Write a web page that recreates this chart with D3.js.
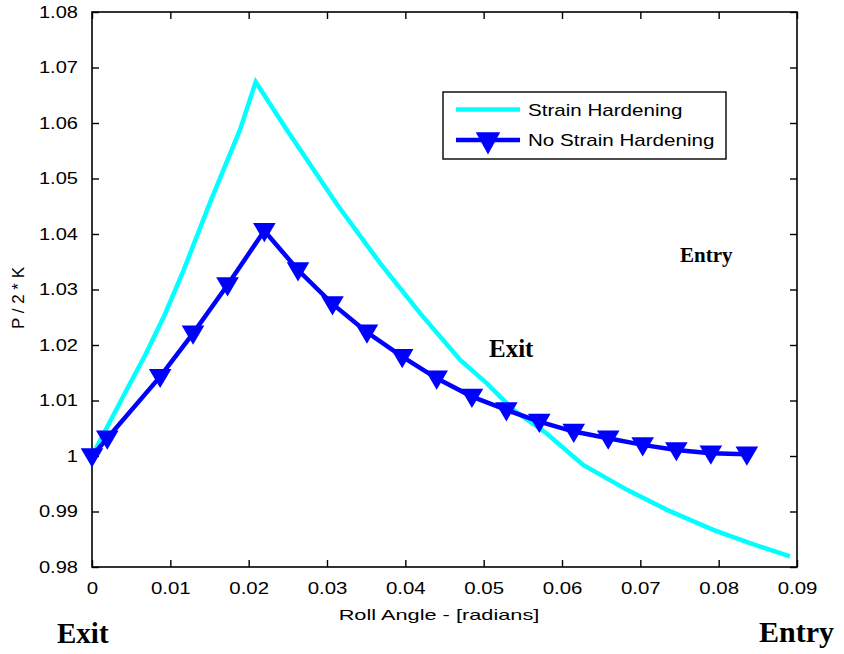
<!DOCTYPE html>
<html>
<head>
<meta charset="utf-8">
<script src="https://cdn.jsdelivr.net/npm/d3@7"></script>
<style>
  html, body { margin: 0; padding: 0; background: #fff; }
  svg { display: block; }
  text { font-family: Arial, "Liberation Sans", sans-serif; fill: #000; }
  .serif { font-family: "Times New Roman", "Liberation Serif", serif; font-weight: bold; }
</style>
</head>
<body>
<svg id="chart" width="844" height="654"></svg>
<script>
// Roll pressure distribution along the arc of contact
const hardeningAngle = [0, 0.0017, 0.0046, 0.0068, 0.0093, 0.0117, 0.0151, 0.0189, 0.0209,
  0.0249, 0.0312, 0.0368, 0.0419, 0.0470, 0.0504, 0.0538, 0.0580, 0.0627, 0.0683,
  0.0734, 0.0793, 0.0840, 0.0891];
const hardeningPressure = [1.0, 1.0046, 1.0124, 1.0182, 1.0255, 1.0335, 1.0458, 1.0588, 1.0674,
  1.0587, 1.0455, 1.0347, 1.0257, 1.0173, 1.0131, 1.0083, 1.0041, 0.9984, 0.9939,
  0.9903, 0.9867, 0.9843, 0.9819];

const noHardeningAngle = [0, 0.00195, 0.0087, 0.0129, 0.0173, 0.0220, 0.0263, 0.0307, 0.0351,
  0.0396, 0.0440, 0.0485, 0.0529, 0.0571, 0.0615, 0.0659, 0.0703, 0.0746, 0.0790, 0.0836];
const noHardeningPressure = [1.0, 1.0032, 1.0143, 1.0221, 1.0308, 1.0406, 1.0335, 1.0274, 1.0223,
  1.0179, 1.0140, 1.0107, 1.0083, 1.0062, 1.0044, 1.0032, 1.0020, 1.0011, 1.0005, 1.0003];

const xTicks = [0, 0.01, 0.02, 0.03, 0.04, 0.05, 0.06, 0.07, 0.08, 0.09];
const xTickLabels = ["0", "0.01", "0.02", "0.03", "0.04", "0.05", "0.06", "0.07", "0.08", "0.09"];
const yTicks = [0.98, 0.99, 1.0, 1.01, 1.02, 1.03, 1.04, 1.05, 1.06, 1.07, 1.08];
const yTickLabels = ["0.98", "0.99", "1", "1.01", "1.02", "1.03", "1.04", "1.05", "1.06", "1.07", "1.08"];

const seriesNames = ["Strain Hardening", "No Strain Hardening"];
const seriesColors = ["#00FFFF", "#0000FF"];

const svg = d3.select("#chart");
const plotL = 92, plotR = 797, plotT = 12, plotB = 567;

const x = d3.scaleLinear().domain([0, 0.09]).range([plotL, plotR]);
const y = d3.scaleLinear().domain([0.98, 1.08]).range([plotB, plotT]);

// horizontally widen a text element by factor k
function stretch(sel, k) {
  sel.each(function () {
    const w = this.getComputedTextLength();
    d3.select(this).attr("textLength", w * k).attr("lengthAdjust", "spacingAndGlyphs");
  });
}

// frame
svg.append("rect")
  .attr("x", plotL).attr("y", plotT)
  .attr("width", plotR - plotL).attr("height", plotB - plotT)
  .attr("fill", "none").attr("stroke", "#000").attr("stroke-width", 1.6);

const tickLen = 7;
const xIdx = d3.scaleOrdinal().domain(xTicks).range(xTickLabels);
const yIdx = d3.scaleOrdinal().domain(yTicks).range(yTickLabels);

// bottom axis (inward ticks)
const gx = svg.append("g").attr("transform", `translate(0,${plotB})`)
  .call(d3.axisBottom(x).tickValues(xTicks).tickSizeInner(-tickLen).tickSizeOuter(0)
    .tickPadding(tickLen + 8).tickFormat(d => xIdx(d)));
gx.select(".domain").remove();
gx.selectAll("line").attr("stroke", "#000").attr("stroke-width", 1.4);
gx.selectAll("text").attr("font-size", 17).attr("fill", "#000")
  .call(stretch, 1.2);

// top axis ticks
const gxt = svg.append("g").attr("transform", `translate(0,${plotT})`)
  .call(d3.axisTop(x).tickValues(xTicks).tickSizeInner(-tickLen).tickSizeOuter(0).tickFormat(""));
gxt.select(".domain").remove();
gxt.selectAll("line").attr("stroke", "#000").attr("stroke-width", 1.4);

// left axis
const gy = svg.append("g").attr("transform", `translate(${plotL},0)`)
  .call(d3.axisLeft(y).tickValues(yTicks).tickSizeInner(-tickLen).tickSizeOuter(0)
    .tickPadding(tickLen + 7).tickFormat(d => yIdx(d)));
gy.select(".domain").remove();
gy.selectAll("line").attr("stroke", "#000").attr("stroke-width", 1.4);
gy.selectAll("text").attr("font-size", 17).attr("fill", "#000")
  .call(stretch, 1.18);

// right axis ticks
const gyr = svg.append("g").attr("transform", `translate(${plotR},0)`)
  .call(d3.axisRight(y).tickValues(yTicks).tickSizeInner(-tickLen).tickSizeOuter(0).tickFormat(""));
gyr.select(".domain").remove();
gyr.selectAll("line").attr("stroke", "#000").attr("stroke-width", 1.4);

// axis titles
svg.append("text")
  .attr("x", 439).attr("y", 620)
  .attr("text-anchor", "middle").attr("font-size", 15)
  .text("Roll Angle - [radians]")
  .call(stretch, 1.45);

svg.append("text")
  .attr("transform", "translate(24,298) rotate(-90)")
  .attr("text-anchor", "middle").attr("font-size", 17)
  .text("P / 2 * K");

// curves
const line = d3.line().x(d => x(d[0])).y(d => y(d[1]));
const hardening = hardeningAngle.map((a, i) => [a, hardeningPressure[i]]);
const noHardening = noHardeningAngle.map((a, i) => [a, noHardeningPressure[i]]);

svg.append("path").datum(hardening)
  .attr("d", line).attr("fill", "none")
  .attr("stroke", seriesColors[0]).attr("stroke-width", 4.5)
  .attr("stroke-linejoin", "miter");

svg.append("path").datum(noHardening)
  .attr("d", line).attr("fill", "none")
  .attr("stroke", seriesColors[1]).attr("stroke-width", 4.5)
  .attr("stroke-linejoin", "miter");

// downward triangle marker
const tri = "M-10,-7L10,-7L0,10Z";
svg.append("g").selectAll("path").data(noHardening).join("path")
  .attr("d", tri)
  .attr("transform", d => `translate(${x(d[0])},${y(d[1])})`)
  .attr("fill", seriesColors[1]).attr("stroke", seriesColors[1]).attr("stroke-width", 1.5)
  .attr("stroke-linejoin", "miter");

// legend
const lg = svg.append("g");
lg.append("rect").attr("x", 443).attr("y", 92).attr("width", 283).attr("height", 67)
  .attr("fill", "#fff").attr("stroke", "#000").attr("stroke-width", 1.4);
const rows = [109.5, 140];
seriesNames.forEach((name, i) => {
  lg.append("line").attr("x1", 456).attr("x2", 520).attr("y1", rows[i]).attr("y2", rows[i])
    .attr("stroke", seriesColors[i]).attr("stroke-width", 4.5);
  lg.append("text").attr("x", 528).attr("y", rows[i] + 6).attr("font-size", 17).text(name)
    .call(stretch, 1.21);
});
lg.append("path").attr("d", "M-11,-8L11,-8L0,12Z")
  .attr("transform", `translate(488,${rows[1] + 1})`)
  .attr("fill", seriesColors[1]).attr("stroke", seriesColors[1]).attr("stroke-width", 1.5);

// annotations
svg.append("text").attr("class", "serif").attr("x", 680).attr("y", 262).attr("font-size", 21).text("Entry");
svg.append("text").attr("class", "serif").attr("x", 489).attr("y", 357).attr("font-size", 25).text("Exit");
svg.append("text").attr("class", "serif").attr("x", 57).attr("y", 643).attr("font-size", 29).text("Exit");
svg.append("text").attr("class", "serif").attr("x", 759).attr("y", 642).attr("font-size", 30).text("Entry");
</script>
</body>
</html>
